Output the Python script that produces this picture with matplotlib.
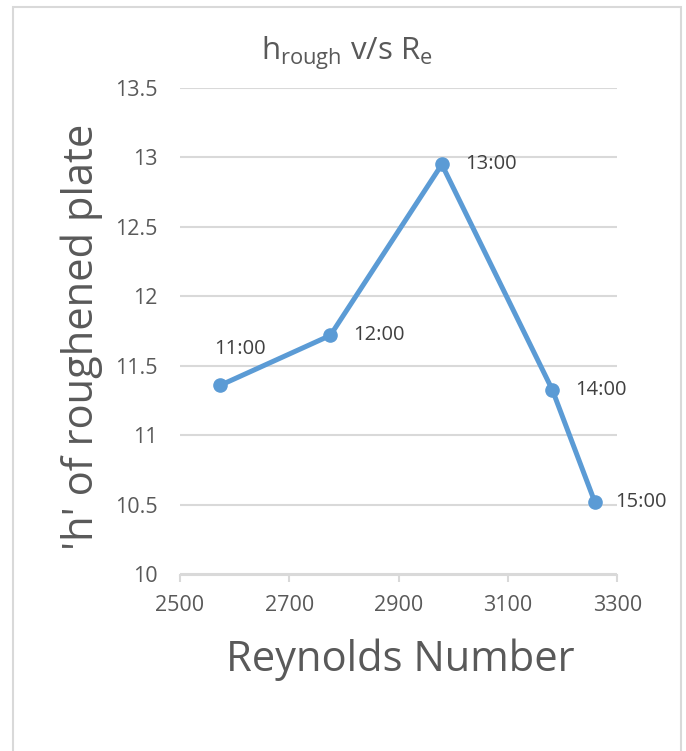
import matplotlib
matplotlib.use('Agg')
import matplotlib.pyplot as plt
from matplotlib.patches import Rectangle

# ------ data
reynolds = [2573, 2775, 2979, 3181, 3259]
h_rough = [11.36, 11.72, 12.95, 11.33, 10.52]
times = ['11:00', '12:00', '13:00', '14:00', '15:00']
x_ticks = [2500, 2700, 2900, 3100, 3300]
y_ticks = [10, 10.5, 11, 11.5, 12, 12.5, 13, 13.5]
y_tick_labels = ['10', '10.5', '11', '11.5', '12', '12.5', '13', '13.5']

# ------ style
plt.rcParams['font.family'] = ['Open Sans', 'DejaVu Sans']
plt.rcParams['mathtext.fontset'] = 'custom'
plt.rcParams['mathtext.rm'] = 'Open Sans'
plt.rcParams['mathtext.it'] = 'Open Sans'
text_col = '#595959'
grid_col = '#D9D9D9'
line_col = '#5B9BD5'

W, H = 686, 751
fig = plt.figure(figsize=(W / 100, H / 100), dpi=100)
fig.patch.set_facecolor('white')

# chart-area border
fig.patches.append(Rectangle((13 / W, -0.05), (681 - 13) / W, 1.05 - 7 / H,
                             transform=fig.transFigure, fill=False,
                             edgecolor=grid_col, linewidth=1.5))

ax = fig.add_axes([180 / W, 1 - 574.5 / H, (617.3 - 180) / W, (574.5 - 88) / H])

ax.plot(reynolds, h_rough, color=line_col, linewidth=3.6, marker='o',
        markersize=9.5, solid_capstyle='round', zorder=3, clip_on=False)

# data labels
offsets = [(20, 36), (23, 0), (23, 0), (23, 0), (20, 0)]
for x, y, t, off in zip(reynolds, h_rough, times, offsets):
    ha = 'center' if off[1] else 'left'
    ax.annotate(t, (x, y), xytext=off, textcoords='offset pixels',
                ha=ha, va='center', fontsize=14.5, color='#404040')

ax.set_xlim(2500, 3300)
ax.set_ylim(10, 13.5)
ax.set_xticks(x_ticks)
ax.set_xticklabels([str(v) for v in x_ticks])
ax.set_yticks(y_ticks)
ax.set_yticklabels(y_tick_labels)

for s in ['top', 'right', 'left']:
    ax.spines[s].set_visible(False)
ax.spines['bottom'].set_color(grid_col)
ax.spines['bottom'].set_linewidth(1.5)
ax.grid(axis='y', color=grid_col, linewidth=1.5)
ax.set_axisbelow(True)
ax.tick_params(axis='x', colors=grid_col, length=5, width=1.5, pad=10,
               labelcolor=text_col, labelsize=15.5)
ax.tick_params(axis='y', length=0, pad=16, labelcolor=text_col, labelsize=15.5)

# titles
fig.text(347 / W, 1 - 53 / H, r'h$_{\mathrm{rough}}$ v/s R$_{\mathrm{e}}$',
         ha='center', va='center', fontsize=22.5, color=text_col)
fig.text(400 / W, 1 - 660 / H, 'Reynolds Number', ha='center', va='center',
         fontsize=30, color=text_col)
fig.text(82 / W, 1 - 337 / H, "'h' of roughened plate", ha='center',
         va='center', rotation=90, fontsize=30, color=text_col)

fig.savefig('out.png', dpi=100)
